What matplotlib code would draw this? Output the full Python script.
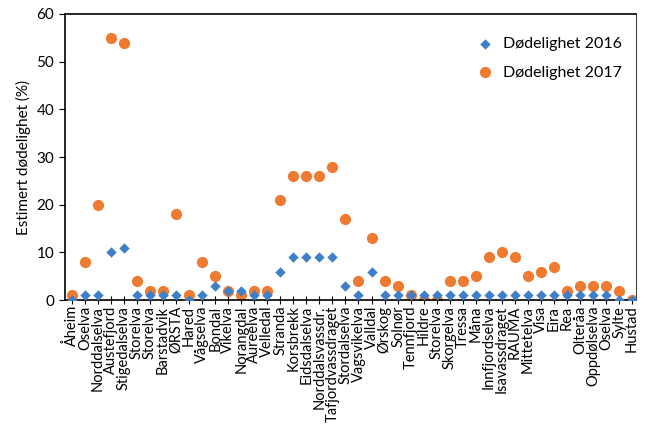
import matplotlib
matplotlib.use("Agg")
import matplotlib.pyplot as plt
import numpy as np

plt.rcParams["font.family"] = ["Lato", "DejaVu Sans"]

RIVERS = [
    "Åheim", "Oselva", "Norddalselva", "Austefjord", "Stigedalselva", "Storelva",
    "Storelva", "Barstadvik", "ØRSTA", "Hared", "Vågselva", "Bondal", "Vikelva",
    "Norangdal", "Aureelva", "Velledal", "Stranda", "Korsbrekk", "Eidsdalselva",
    "Norddalsvassdr.", "Tafjordvassdraget", "Stordalselva", "Vagsvikelva", "Valldal",
    "Ørskog", "Solnør", "Tennfjord", "Hildre", "Storelva", "Skorgelva", "Tressa",
    "Måna", "Innfjordselva", "Isavassdraget", "RAUMA", "Mittetelva", "Visa", "Eira",
    "Rea", "Olteråa", "Oppdølselva", "Oselva", "Sylte", "Hustad",
]
MORT_2016 = [
    0, 1, 1, 10, 11, 1, 1, 1, 1, 0, 1, 3, 2, 2, 1, 1, 6, 9, 9, 9, 9, 3,
    1, 6, 1, 1, 1, 1, 1, 1, 1, 1, 1, 1, 1, 1, 1, 1, 1, 1, 1, 1, 0, 0,
]
MORT_2017 = [
    1, 8, 20, 55, 54, 4, 2, 2, 18, 1, 8, 5, 2, 1, 2, 2, 21, 26, 26, 26, 28, 17,
    4, 13, 4, 3, 1, 0, 0, 4, 4, 5, 9, 10, 9, 5, 6, 7, 2, 3, 3, 3, 2, 0,
]

BLUE = "#3F7FC7"
ORANGE = "#EE7B30"


def main():
    fig = plt.figure(figsize=(6.47, 4.48), dpi=100)
    ax = fig.add_axes([0.1, 0.33, 0.883, 0.639])

    x = np.arange(len(RIVERS))
    ax.scatter(x, MORT_2017, marker="o", s=65, color=ORANGE, linewidths=0,
               label="Dødelighet 2017", zorder=2)
    ax.scatter(x, MORT_2016, marker="D", s=28, color=BLUE, linewidths=0,
               label="Dødelighet 2016", zorder=3)

    ax.set_xlim(-0.55, len(RIVERS) - 0.7)
    ax.set_ylim(0, 60)
    ax.set_yticks(range(0, 61, 10))
    ax.set_xticks(x)
    ax.set_xticklabels(RIVERS, rotation=90, fontsize=10.5)
    ax.tick_params(axis="y", labelsize=11, direction="out", length=4)
    ax.tick_params(axis="x", direction="inout", length=6, pad=1)
    ax.set_ylabel("Estimert dødelighet (%)", fontsize=11)

    for side in ["left", "bottom", "top"]:
        ax.spines[side].set_color("black")
        ax.spines[side].set_linewidth(1.2)
    ax.spines["right"].set_color("#444444")

    handles, labels = ax.get_legend_handles_labels()
    ax.legend(handles[::-1], labels[::-1], loc="upper right", frameon=False,
              fontsize=11.5, handletextpad=0.1, labelspacing=0.9,
              bbox_to_anchor=(1.0, 0.97))

    fig.savefig("out.png", dpi=100)


if __name__ == "__main__":
    main()
